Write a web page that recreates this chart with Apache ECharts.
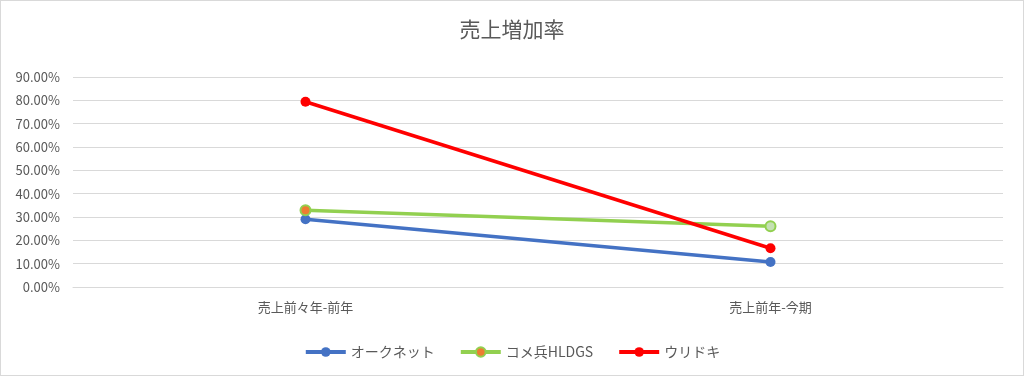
<!DOCTYPE html>
<html>
<head>
<meta charset="utf-8">
<script src="https://cdn.jsdelivr.net/npm/echarts@6/dist/echarts.min.js"></script>
<style>
html, body { margin: 0; padding: 0; background: #fff; }
#chart { width: 1022px; height: 374px; border: 1px solid #d9d9d9; }
</style>
</head>
<body>
<div id="chart"></div>
<script>
var categories = ['売上前々年-前年', '売上前年-今期'];
var orknet = [29.0, 10.7];
var komehyo = [32.9, 26.0];
var uridoki = [79.4, 16.6];

var font = '"Noto Sans CJK JP", "Noto Sans", sans-serif';
var chart = echarts.init(document.getElementById('chart'));

chart.setOption({
    title: {
        text: '売上増加率',
        left: 'center',
        top: 13,
        textStyle: { color: '#595959', fontSize: 21, fontWeight: 'normal', fontFamily: font }
    },
    legend: {
        bottom: 11,
        left: 'center',
        itemWidth: 40,
        itemHeight: 12,
        itemGap: 24,
        lineStyle: { width: 4 },
        textStyle: { color: '#595959', fontSize: 14, fontFamily: font },
        data: ['オークネット', 'コメ兵HLDGS', 'ウリドキ']
    },
    grid: { left: 72, right: 20, top: 76, bottom: 88 },
    xAxis: {
        type: 'category',
        data: categories,
        axisLine: { lineStyle: { color: '#d9d9d9' } },
        axisTick: { show: false },
        axisLabel: { color: '#595959', fontSize: 13, fontFamily: font, margin: 14 }
    },
    yAxis: {
        type: 'value',
        min: 0,
        max: 90,
        interval: 10,
        axisLine: { show: false },
        axisTick: { show: false },
        splitLine: { lineStyle: { color: '#d9d9d9' } },
        axisLabel: {
            color: '#595959', fontSize: 13, fontFamily: font, margin: 13,
            formatter: function (v) { return v.toFixed(2) + '%'; }
        }
    },
    series: [{
        name: 'オークネット',
        type: 'line',
        data: orknet,
        symbol: 'circle',
        symbolSize: 10,
        lineStyle: { color: '#4472C4', width: 3.5 },
        itemStyle: { color: '#4472C4' }
    }, {
        name: 'コメ兵HLDGS',
        type: 'line',
        data: [
            { value: komehyo[0] },
            { value: komehyo[1], itemStyle: { color: '#C5E0B4' } }
        ],
        symbol: 'circle',
        symbolSize: 10,
        lineStyle: { color: '#92D050', width: 3.5 },
        itemStyle: { color: '#ED7D31', borderColor: '#92D050', borderWidth: 2 }
    }, {
        name: 'ウリドキ',
        type: 'line',
        data: uridoki,
        symbol: 'circle',
        symbolSize: 10,
        lineStyle: { color: '#FF0000', width: 3.5 },
        itemStyle: { color: '#FF0000' }
    }]
});
</script>
</body>
</html>
